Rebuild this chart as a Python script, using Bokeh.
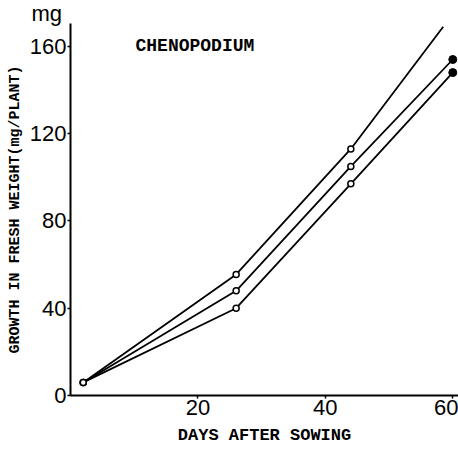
from bokeh.plotting import figure
from bokeh.models import Range1d, FixedTicker, Label, Title
from bokeh.embed import file_html
from bokeh.resources import INLINE

# Data
days = [2, 26, 44, 60]
series_mid = [6, 48, 105, 154]
series_low = [6, 40, 97, 148]
days_top = [2, 26, 44, 58.5]
series_top = [6, 55.5, 113, 169]

x_ticks = [20, 40, 60]
y_ticks = [0, 40, 80, 120, 160]

MONO = "Liberation Mono"
SANS = "Liberation Sans"

p = figure(width=458, height=450, output_backend="svg", toolbar_location=None,
           x_range=Range1d(0, 60.9), y_range=Range1d(0, 170.5),
           min_border_left=70, min_border_right=0, min_border_top=0, min_border_bottom=55)

p.add_layout(Title(text="mg", align="left", offset=-39, standoff=-4,
                   text_font=SANS, text_font_size="22px", text_font_style="normal",
                   text_color="black"), "above")

p.outline_line_color = None
p.xgrid.visible = False
p.ygrid.visible = False
p.background_fill_color = "white"
p.border_fill_color = "white"

for ax in (p.xaxis[0], p.yaxis[0]):
    ax.axis_line_width = 2
    ax.axis_line_color = "black"
    ax.major_tick_line_color = "black"
    ax.major_tick_line_width = 1.5
    ax.major_tick_in = 0
    ax.major_tick_out = 3
    ax.minor_tick_line_color = None
    ax.major_label_text_font = SANS
    ax.major_label_text_font_size = "22px"
    ax.major_label_text_color = "black"
    ax.major_label_standoff = 1
    ax.axis_label_text_font = MONO
    ax.axis_label_text_font_style = "bold"
    ax.axis_label_text_font_size = "15px"
    ax.axis_label_text_color = "black"

p.xaxis.ticker = FixedTicker(ticks=x_ticks)
p.yaxis.ticker = FixedTicker(ticks=y_ticks)
p.xaxis.axis_label = "DAYS AFTER SOWING"
p.yaxis.axis_label = "GROWTH IN FRESH WEIGHT(mg/PLANT)"
p.xaxis.axis_label_text_font_size = "17px"
p.xaxis.axis_label_standoff = 8
p.yaxis.axis_label_standoff = 3

lw = 1.8
p.line(days_top, series_top, line_color="black", line_width=lw)
p.line(days, series_mid, line_color="black", line_width=lw)
p.line(days, series_low, line_color="black", line_width=lw)

p.scatter(days_top[:-1], series_top[:-1], size=6, marker="circle",
          fill_color="white", line_color="black", line_width=1.5)
p.scatter(days[:-1], series_mid[:-1], size=6, marker="circle",
          fill_color="white", line_color="black", line_width=1.5)
p.scatter(days[:-1], series_low[:-1], size=6, marker="circle",
          fill_color="white", line_color="black", line_width=1.5)
p.scatter([days[-1], days[-1]], [series_mid[-1], series_low[-1]], size=8, marker="circle",
          fill_color="black", line_color="black")

p.add_layout(Label(x=10.2, y=160, text="CHENOPODIUM", text_font=MONO, text_font_style="bold",
                   text_font_size="18px", text_baseline="middle", text_align="left",
                   text_color="black"))

open("out.html", "w").write(file_html(p, INLINE))
